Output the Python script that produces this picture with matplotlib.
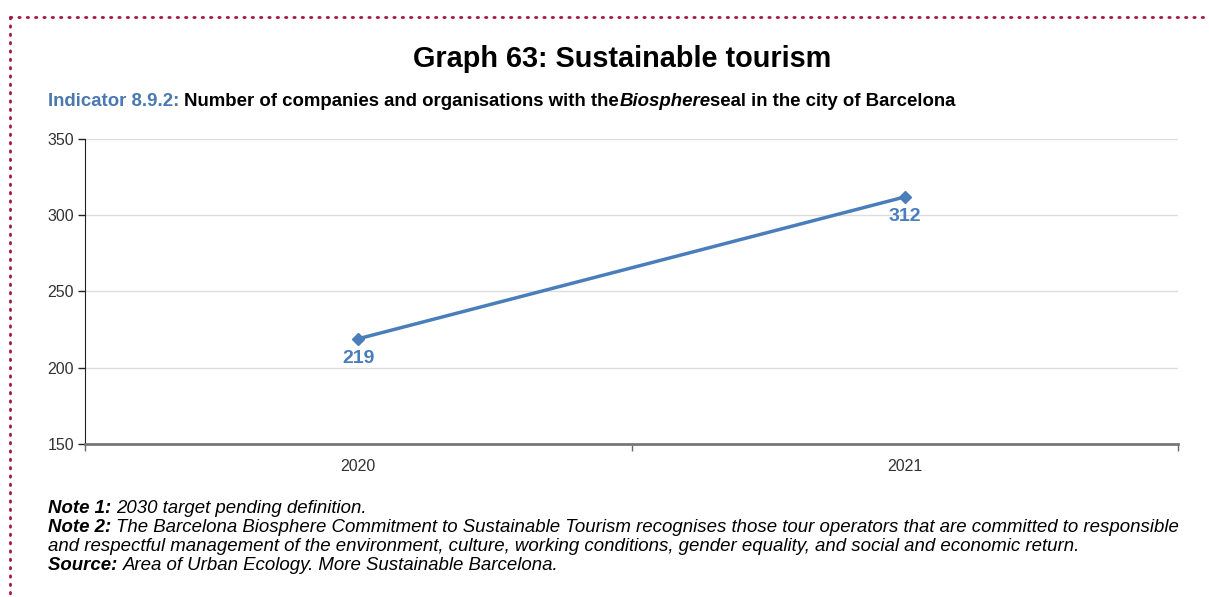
import matplotlib
matplotlib.use("Agg")
import matplotlib.pyplot as plt
from matplotlib.lines import Line2D

plt.rcParams['font.family'] = ['Liberation Sans', 'DejaVu Sans']

years = ["2020", "2021"]
values = [219, 312]
y_ticks = [150, 200, 250, 300, 350]

title = "Graph 63: Sustainable tourism"
sub_runs = [("Indicator 8.9.2: ", "bold", "normal", "#4a78b0"),
            ("Number of companies and organisations with the", "bold", "normal", "black"),
            ("Biosphere", "bold", "italic", "black"),
            ("seal in the city of Barcelona", "bold", "normal", "black")]
notes = [
    [("Note 1: ", "bold"), ("2030 target pending definition.", "normal")],
    [("Note 2: ", "bold"), ("The Barcelona Biosphere Commitment to Sustainable Tourism recognises those tour operators that are committed to responsible", "normal")],
    [("and respectful management of the environment, culture, working conditions, gender equality, and social and economic return.", "normal")],
    [("Source: ", "bold"), ("Area of Urban Ecology. More Sustainable Barcelona.", "normal")],
]

W, H = 1209, 597
fig = plt.figure(figsize=(W / 100, H / 100), dpi=100)
line_color = "#4a7ebb"

ax = fig.add_axes([85 / W, 1 - 444 / H, (1178 - 85) / W, (444 - 139) / H])
x = list(range(len(years)))
ax.plot(x, values, color=line_color, lw=2.5, marker="D", ms=6, zorder=3)
for xi, v in zip(x, values):
    ax.annotate(str(v), (xi, v), xytext=(0, -8), textcoords="offset points",
                ha="center", va="top", color=line_color, fontsize=14, fontweight="bold")
ax.set_xlim(-0.5, len(years) - 0.5)
ax.set_ylim(150, 350)
ax.set_yticks(y_ticks)
ax.set_yticklabels([str(t) for t in y_ticks], fontsize=11.5, color="#333333")
ax.set_xticks([-0.5, 0.5, 1.5], minor=False)
ax.set_xticklabels([])
ax.set_xticks(x, minor=True)
ax.set_xticklabels(years, minor=True, fontsize=11.5, color="#333333")
ax.tick_params(axis="x", which="minor", length=0, pad=11)
ax.tick_params(axis="x", which="major", length=5, color="#666666", width=1)
ax.tick_params(axis="y", length=5, width=1, color="#222222", pad=3)
ax.grid(axis="y", color="#dddddd", lw=1)
ax.set_axisbelow(True)
for s in ["top", "right"]:
    ax.spines[s].set_visible(False)
ax.spines["left"].set_color("#222222")
ax.spines["bottom"].set_color("#777777")
ax.spines["bottom"].set_linewidth(2)

# dotted border
for xs, ys in [([10 / W, 1.0], [1 - 17 / H, 1 - 17 / H]), ([10 / W, 10 / W], [1 - 17 / H, 0])]:
    fig.add_artist(Line2D(xs, ys, transform=fig.transFigure, color="#a0183c", lw=2,
                          linestyle=(0, (0.5, 2.5)), dash_capstyle="round"))

fig.text(622 / W, 1 - 59 / H, title, ha="center", va="center", fontsize=20.8, fontweight="bold")

renderer = fig.canvas.get_renderer()

def runs(xpx, ypx, items, size):
    cx = xpx
    for txt, weight, style, color in items:
        t = fig.text(cx / W, 1 - ypx / H, txt, ha="left", va="baseline", fontsize=size,
                     fontweight=weight, fontstyle=style, color=color)
        bb = t.get_window_extent(renderer=renderer)
        cx += bb.width

runs(48, 106, sub_runs, 13.45)

base_y = [513, 532, 551, 570]
for line, yb in zip(notes, base_y):
    runs(48, yb, [(t, w, "italic", "black") for t, w in line], 13.4)

fig.savefig("out.png", dpi=100)
